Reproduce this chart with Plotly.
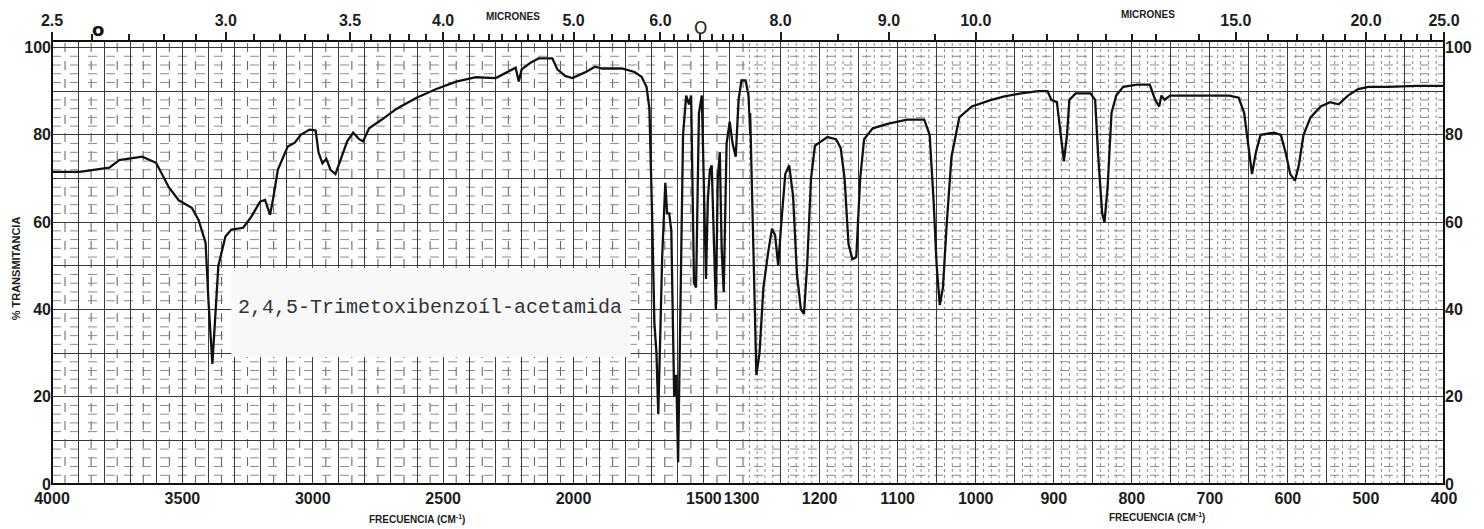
import plotly.graph_objects as go

# ---- spectrum, left sheet (4000 - 1320 cm-1) ----
wn_left = [3998, 3894, 3780, 3742, 3654, 3601, 3552, 3514, 3464, 3438, 3411, 3400,
           3385, 3362, 3335, 3312, 3267, 3236, 3202, 3183, 3164, 3153, 3134, 3096,
           3069, 3046, 3012, 2989, 2978, 2963, 2948, 2932, 2913, 2894, 2868, 2845,
           2822, 2807, 2784, 2735, 2678, 2602, 2526, 2450, 2374, 2298, 2252, 2222,
           2210, 2199, 2165, 2134, 2081, 2062, 2032, 2005, 1956, 1918, 1891, 1815,
           1766, 1739, 1720, 1709, 1698, 1690, 1682, 1675, 1667, 1660, 1648, 1641,
           1633, 1625, 1614, 1606, 1599, 1591, 1580, 1568, 1557, 1549, 1538, 1530,
           1519, 1508, 1500, 1492, 1485, 1477, 1470, 1462, 1454, 1447, 1439, 1432,
           1424, 1413, 1401, 1390, 1378, 1367, 1356, 1340, 1329, 1322]
t_left = [71.5, 71.5, 72.5, 74.2, 75.0, 73.6, 68.0, 65.0, 63.3, 60.5, 55.3, 42.0,
          27.5, 50.0, 56.7, 58.3, 58.7, 61.2, 64.7, 65.1, 61.7, 65.0, 72.0, 77.3,
          78.2, 80.0, 81.2, 81.0, 76.0, 73.5, 74.5, 72.0, 71.0, 74.0, 78.5, 80.5,
          79.0, 78.5, 81.5, 83.5, 86.0, 88.5, 90.5, 92.2, 93.2, 93.0, 94.5, 95.4,
          92.2, 95.0, 96.5, 97.5, 97.5, 95.0, 93.5, 93.0, 94.3, 95.6, 95.2, 95.2,
          94.4, 93.3, 91.0, 86.0, 60.0, 37.0, 30.0, 16.0, 35.0, 52.0, 69.0, 62.0,
          62.0, 58.0, 20.0, 25.0, 5.0, 40.0, 80.0, 89.0, 87.0, 89.0, 46.0, 45.0,
          85.0, 89.0, 70.0, 47.0, 65.0, 72.0, 73.0, 58.0, 40.0, 70.0, 76.0, 54.0,
          44.0, 78.0, 83.0, 78.0, 75.0, 88.0, 92.5, 92.5, 89.0, 80.0]

# ---- spectrum, right sheet (1290 - 400 cm-1) ----
wn_right = [1289, 1285, 1281, 1277, 1272, 1266, 1261, 1257, 1253, 1249, 1244, 1239,
            1234, 1229, 1224, 1220, 1216, 1211, 1206, 1198, 1190, 1179, 1173, 1168,
            1163, 1158, 1153, 1148, 1143, 1132, 1113, 1088, 1066, 1059, 1054, 1050,
            1046, 1042, 1037, 1031, 1021, 1005, 980, 963, 942, 920, 908, 903, 896,
            891, 887, 883, 880, 872, 853, 847, 843, 838, 835, 831, 826, 820, 811,
            793, 777, 770, 765, 762, 758, 751, 726, 675, 663, 656, 651, 646, 641,
            635, 618, 609, 603, 597, 591, 586, 580, 571, 558, 546, 535, 523, 510,
            497, 472, 434, 401]
t_right = [85.0, 55.0, 25.0, 30.0, 45.0, 53.0, 58.5, 57.0, 50.0, 60.0, 71.0, 73.0,
           66.0, 48.0, 40.0, 39.0, 50.0, 70.0, 77.5, 78.5, 79.5, 79.0, 77.0, 70.0,
           55.0, 51.5, 52.0, 70.0, 79.0, 81.5, 82.5, 83.5, 83.5, 80.0, 65.0, 50.0,
           41.0, 45.0, 60.0, 75.0, 84.0, 86.5, 88.0, 88.8, 89.5, 90.0, 90.0, 88.0,
           87.5, 80.0, 74.0, 80.0, 88.0, 89.5, 89.5, 88.0, 75.0, 62.0, 60.0, 68.0,
           85.0, 89.0, 91.0, 91.5, 91.5, 88.0, 86.5, 89.0, 88.0, 89.0, 89.0, 89.0,
           88.5, 85.0, 78.0, 71.0, 76.0, 80.0, 80.5, 80.0, 76.0, 71.0, 69.5, 73.0,
           80.0, 84.0, 86.5, 87.5, 87.0, 89.0, 90.5, 91.0, 91.0, 91.2, 91.2]

# ---- axis labels ----
freq_labels_left = [4000, 3500, 3000, 2500, 2000, 1500]
freq_labels_right = [1300, 1200, 1100, 1000, 900, 800, 700, 600, 500, 400]
micron_labels_left = [2.5, 3.0, 3.5, 4.0, 5.0, 6.0]
micron_labels_right = [8.0, 9.0, 10.0, 15.0, 20.0, 25.0]
micron_minor_left = [2.6, 2.7, 2.8, 2.9, 3.1, 3.2, 3.3, 3.4, 3.6, 3.7, 3.8, 3.9,
                     4.1, 4.2, 4.3, 4.4, 4.5, 4.6, 4.7, 4.8, 4.9, 5.2, 5.4, 5.6,
                     5.8, 6.2, 6.4, 6.6, 6.8, 7.0, 7.2, 7.4]
micron_minor_right = [8.5, 9.5, 10.5, 11.0, 11.5, 12.0, 12.5, 13.0, 14.0, 16.0,
                      17.0, 18.0, 19.0, 21.0, 22.0, 23.0, 24.0]
transm_labels = [0, 20, 40, 60, 80, 100]

# chart geometry (pixels)
W, H = 1484, 529
ML, MR, MT, MB = 52, 27, 41, 45
PW = W - ML - MR
PH = H - MT - MB
LEFT_RANGE = [4000, 1321.4]
RIGHT_RANGE = [1300, 400]
left_dom = [0, (757 - ML) / PW]
right_dom = [(748 - ML) / PW, 1]

INK = "#1c1c1c"
FONT = "Liberation Sans"
SOLID = "#3a3a3a"
FAINT = "#8c8c8c"


def steps(start, stop, step):
    vals = []
    v = start
    while v >= stop:
        vals.append(v)
        v -= step
    return vals


fig = go.Figure()
fig.add_trace(go.Scatter(x=wn_left, y=t_left, mode="lines", xaxis="x", yaxis="y",
                         line=dict(color="#111", width=2.3), showlegend=False,
                         hoverinfo="skip"))
fig.add_trace(go.Scatter(x=wn_right, y=t_right, mode="lines", xaxis="x2", yaxis="y",
                         line=dict(color="#111", width=2.3), showlegend=False,
                         hoverinfo="skip"))
# carriers for the top (micron) and right-hand axes
fig.add_trace(go.Scatter(x=[LEFT_RANGE[0]], y=[None], xaxis="x3", yaxis="y",
                         showlegend=False, hoverinfo="skip"))
fig.add_trace(go.Scatter(x=[RIGHT_RANGE[0]], y=[None], xaxis="x4", yaxis="y2",
                         showlegend=False, hoverinfo="skip"))

# solid chart-paper rulings come from the axes' major + minor grids
left_solid = [v for v in steps(4000, 1350, 100) if v not in freq_labels_left]
right_solid = [v for v in steps(1300, 400, 50) if v not in freq_labels_right]
y_solid = [v for v in range(10, 100, 20)]
# fine rulings drawn as shapes
left_dashed = steps(3950, 1350, 100)
right_dotted = [v for v in steps(1290, 410, 10) if v % 50 != 0]
y_dashed = [v for v in range(2, 101, 2) if v % 10 != 0]

tickfont = dict(family=FONT, size=16, color=INK, weight="bold")

fig.update_layout(
    width=W, height=H,
    margin=dict(l=ML, r=MR, t=MT, b=MB),
    paper_bgcolor="white", plot_bgcolor="rgba(0,0,0,0)",
    xaxis=dict(domain=left_dom, range=LEFT_RANGE, anchor="y", showline=False,
               zeroline=False, ticks="", tickfont=tickfont, ticklabelstandoff=3,
               gridcolor=SOLID, gridwidth=1, tickmode="array",
               tickvals=freq_labels_left, ticktext=[str(v) for v in freq_labels_left],
               minor=dict(tickmode="array", tickvals=left_solid, showgrid=True,
                          gridcolor=SOLID, gridwidth=1)),
    xaxis2=dict(domain=right_dom, range=RIGHT_RANGE, anchor="y", showline=False,
                zeroline=False, ticks="", tickfont=tickfont, ticklabelstandoff=3,
                gridcolor=SOLID, gridwidth=1, tickmode="array",
                tickvals=freq_labels_right, ticktext=[str(v) for v in freq_labels_right],
                minor=dict(tickmode="array", tickvals=right_solid, showgrid=True,
                           gridcolor=SOLID, gridwidth=1)),
    xaxis3=dict(overlaying="x", side="top", range=LEFT_RANGE, anchor="y",
                showgrid=False, zeroline=False, tickmode="array",
                tickvals=[1e4 / m for m in micron_labels_left],
                ticktext=[f"{m:.1f}" for m in micron_labels_left],
                ticks="outside", ticklen=8, tickcolor=INK, tickwidth=1.5,
                minor=dict(tickmode="array", tickvals=[1e4 / m for m in micron_minor_left],
                           ticks="outside", ticklen=6, tickcolor=INK, showgrid=False),
                tickfont=tickfont),
    xaxis4=dict(overlaying="x2", side="top", range=RIGHT_RANGE, anchor="y2",
                showgrid=False, zeroline=False, tickmode="array",
                tickvals=[1e4 / m for m in micron_labels_right],
                ticktext=[f"{m:.1f}" for m in micron_labels_right],
                ticks="outside", ticklen=8, tickcolor=INK, tickwidth=1.5,
                minor=dict(tickmode="array", tickvals=[1e4 / m for m in micron_minor_right],
                           ticks="outside", ticklen=6, tickcolor=INK, showgrid=False),
                tickfont=tickfont),
    yaxis=dict(domain=[0, 1], range=[0, 101.5], anchor="x", zeroline=False,
               tickmode="array", tickvals=transm_labels,
               ticktext=[str(v) for v in transm_labels],
               gridcolor=SOLID, gridwidth=1, ticks="", tickfont=tickfont,
               minor=dict(tickmode="array", tickvals=y_solid, showgrid=True,
                          gridcolor=SOLID, gridwidth=1)),
    yaxis2=dict(overlaying="y", side="right", anchor="x2", range=[0, 101.5],
                showgrid=False, zeroline=False, tickmode="array",
                tickvals=transm_labels, ticktext=[str(v) for v in transm_labels],
                ticks="", tickfont=tickfont),
)

shapes = []
for v in left_dashed:
    shapes.append(dict(type="line", xref="x", yref="paper", x0=v, x1=v, y0=0, y1=1,
                       line=dict(color="#5e5e5e", width=1, dash="dash"), layer="below"))
for v in right_dotted:
    shapes.append(dict(type="line", xref="x2", yref="paper", x0=v, x1=v, y0=0, y1=1,
                       line=dict(color=FAINT, width=1, dash="dot"), layer="below"))
for v in y_dashed:
    shapes.append(dict(type="line", xref="paper", yref="y", x0=0, x1=1, y0=v, y1=v,
                       line=dict(color=FAINT, width=1, dash="dash"), layer="below"))

# chart frame
shapes.append(dict(type="rect", xref="paper", yref="paper", x0=0, y0=0, x1=1, y1=1,
                   line=dict(color="#111", width=2), layer="above"))
# sample name card
shapes.append(dict(type="rect", xref="paper", yref="paper",
                   x0=(233 - ML) / PW, x1=(636 - ML) / PW,
                   y0=(MT + PH - 357) / PH, y1=(MT + PH - 268) / PH,
                   fillcolor="#f8f8f8", line=dict(width=0), layer="above"))
fig.update_layout(shapes=shapes)


def note(px, py, text, font, **kw):
    fig.add_annotation(xref="paper", yref="paper", x=(px - ML) / PW,
                       y=(MT + PH - py) / PH, text=text, showarrow=False,
                       xanchor="center", yanchor="middle", font=font, **kw)


note(434, 307, "2,4,5-Trimetoxibenzoíl-acetamida",
     dict(family="Liberation Mono", size=20, color="#333"))

small = dict(family=FONT, size=10, color=INK, weight="bold")
note(517, 17, "MICRONES", small)
note(1158, 15, "MICRONES", small)
note(420, 519, "FRECUENCIA (CM<sup>-1</sup>)", small)
note(1167, 517, "FRECUENCIA (CM<sup>-1</sup>)", small)
note(16, 268, "% TRANSMITANCIA",
     dict(family=FONT, size=11, color=INK, weight="bold"), textangle=-90)
# pen marks on the chart paper
note(707, 28, "O", dict(family="DejaVu Sans", size=17, color="#222"))
note(98, 30, "<b>o</b>", dict(family="DejaVu Sans", size=18, color="#111"))

fig.write_html("out.html")
